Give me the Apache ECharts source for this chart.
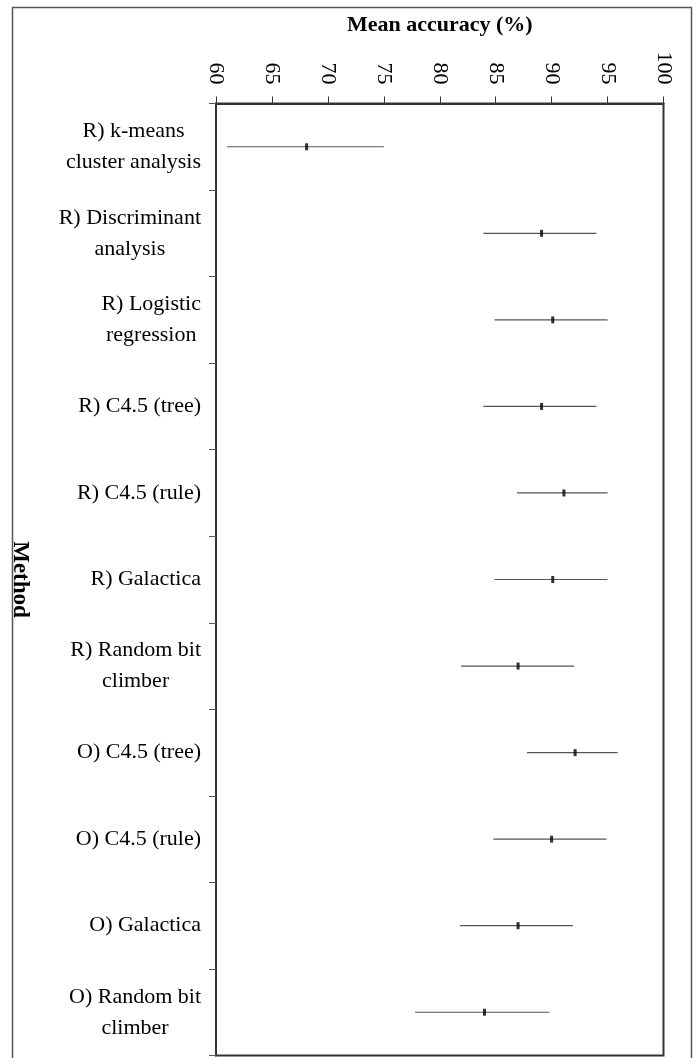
<!DOCTYPE html>
<html>
<head>
<meta charset="utf-8">
<script src="https://cdn.jsdelivr.net/npm/echarts@6/dist/echarts.min.js"></script>
<style>
  html, body { margin: 0; padding: 0; background: #fff; }
  #chart { width: 698px; height: 1058px; }
</style>
</head>
<body>
<div id="chart"></div>
<script>
// methods, top to bottom
let methods = [
  'R) k-means\ncluster analysis',
  'R) Discriminant\nanalysis',
  'R) Logistic\nregression',
  'R) C4.5 (tree)',
  'R) C4.5 (rule)',
  'R) Galactica',
  'R) Random bit\nclimber',
  'O) C4.5 (tree)',
  'O) C4.5 (rule)',
  'O) Galactica',
  'O) Random bit\nclimber'
]
let meanAcc = [68.1, 89.1, 90.1, 89.1, 91.1, 90.1, 87.0, 92.1, 90.0, 87.0, 84.0]
let lowAcc = [61.0, 83.9, 84.9, 83.9, 86.9, 84.9, 81.9, 87.8, 84.8, 81.8, 77.8]
let highAcc = [75.0, 94.0, 95.0, 94.0, 95.0, 95.0, 92.0, 95.9, 94.9, 91.9, 89.8]

const serif = '"Liberation Serif", "DejaVu Serif", serif'

let barData = methods.map((m, i) => [i, lowAcc[i], highAcc[i]])
let meanData = methods.map((m, i) => [meanAcc[i], i])

let chart = echarts.init(document.getElementById('chart'))

let option = {
  animation: false,
  backgroundColor: '#fff',
  graphic: [
    {
      type: 'rect',
      shape: { x: 12.5, y: 7.5, width: 679, height: 1060 },
      style: { fill: 'none', stroke: '#555', lineWidth: 1.5 },
      silent: true
    }
  ],
  grid: {
    left: 213.5,
    right: 34.5,
    top: 103.5,
    bottom: 2.5,
    show: true,
    borderColor: '#333',
    borderWidth: 2
  },
  xAxis: {
    type: 'value',
    position: 'top',
    min: 60,
    max: 100,
    interval: 5,
    name: 'Mean accuracy (%)',
    nameLocation: 'middle',
    nameGap: 67,
    nameTextStyle: {
      fontFamily: serif,
      fontSize: 22,
      fontWeight: 'bold',
      color: '#000'
    },
    axisLine: { show: true, lineStyle: { color: '#333', width: 2 } },
    axisTick: { show: true, length: 7, lineStyle: { color: '#333' } },
    splitLine: { show: false },
    axisLabel: {
      rotate: 90,
      margin: 19,
      fontFamily: serif,
      fontSize: 22,
      color: '#000'
    }
  },
  yAxis: {
    type: 'category',
    data: methods,
    inverse: true,
    name: 'Method',
    nameLocation: 'middle',
    nameRotate: -90,
    nameGap: 185,
    nameTextStyle: {
      fontFamily: serif,
      fontSize: 23,
      fontWeight: 'bold',
      color: '#000'
    },
    axisLine: { show: true, lineStyle: { color: '#333', width: 2 } },
    axisTick: { show: true, length: 7, lineStyle: { color: '#555' } },
    splitLine: { show: false },
    axisLabel: {
      margin: 15,
      align: 'right',
      formatter(v) {
        return v.split('\n').map(s => `{c|${s}}`).join('\n')
      },
      rich: {
        c: {
          align: 'center',
          fontFamily: serif,
          fontSize: 22,
          lineHeight: 31,
          color: '#000'
        }
      }
    }
  },
  series: [
    {
      type: 'custom',
      data: barData,
      encode: { x: [1, 2], y: 0 },
      renderItem(params, api) {
        let lo = api.coord([api.value(1), api.value(0)])
        let hi = api.coord([api.value(2), api.value(0)])
        return {
          type: 'line',
          shape: { x1: lo[0], y1: lo[1], x2: hi[0], y2: hi[1] },
          style: { stroke: '#555', lineWidth: 1.2 }
        }
      },
      z: 2
    },
    {
      type: 'scatter',
      data: meanData,
      symbol: 'rect',
      symbolSize: [3, 7],
      itemStyle: { color: '#000' },
      z: 3
    }
  ]
}

chart.setOption(option)
</script>
</body>
</html>
